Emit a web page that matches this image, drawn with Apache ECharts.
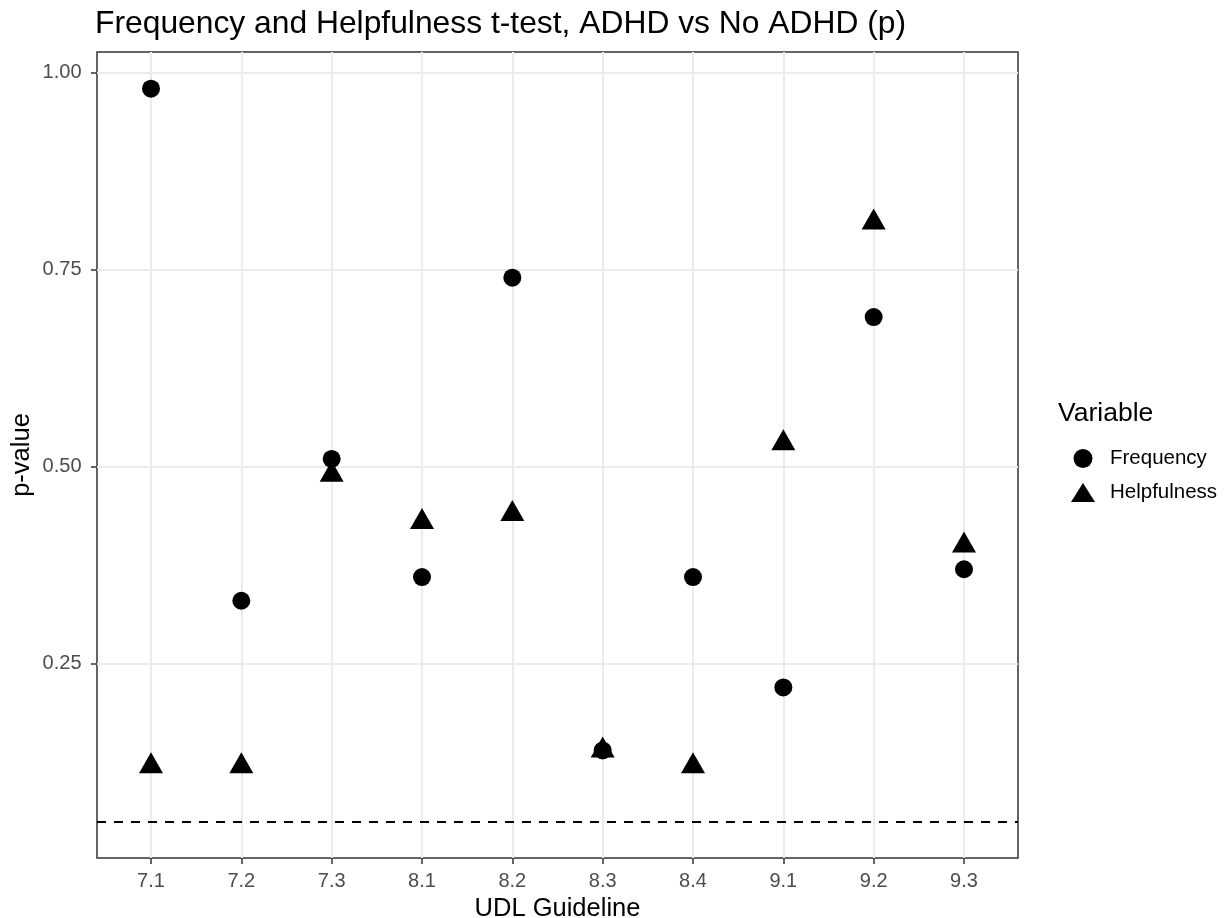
<!DOCTYPE html>
<html>
<head>
<meta charset="utf-8">
<title>Frequency and Helpfulness t-test</title>
<script src="https://cdn.jsdelivr.net/npm/echarts@6/dist/echarts.min.js"></script>
<style>
  html, body { margin: 0; padding: 0; background: #fff; }
  #chart { width: 1226px; height: 918px; }
</style>
</head>
<body>
<div id="chart"></div>
<script>
// data
var guidelines = ['7.1', '7.2', '7.3', '8.1', '8.2', '8.3', '8.4', '9.1', '9.2', '9.3'];
var frequency = [0.98, 0.33, 0.51, 0.36, 0.74, 0.14, 0.36, 0.22, 0.69, 0.37];
var helpfulness = [0.12, 0.12, 0.49, 0.43, 0.44, 0.14, 0.12, 0.53, 0.81, 0.40];
var yTicks = [0.25, 0.50, 0.75, 1.00];
var cutoff = 0.05;

var font = "'Liberation Sans', Arial, Helvetica, sans-serif";
var yMin = 0.0035, yMax = 1.0265;

function pairs(vals) {
    return vals.map(function (v, i) { return [i, v]; });
}

var chart = echarts.init(document.getElementById('chart'));
chart.setOption({
    animation: false,
    textStyle: { fontFamily: font },
    title: [{
        text: 'Frequency and Helpfulness t-test, ADHD vs No ADHD (p)',
        left: 90, top: 3,
        textStyle: { fontSize: 31.8, fontWeight: 'normal', color: '#000', fontFamily: font }
    }, {
        text: 'Variable',
        left: 1053, top: 395,
        textStyle: { fontSize: 26.5, fontWeight: 'normal', color: '#000', fontFamily: font }
    }],
    legend: {
        orient: 'vertical',
        left: 1066, top: 443,
        itemWidth: 24, itemHeight: 19, itemGap: 13,
        data: [{ name: 'Frequency', icon: 'circle' }, { name: 'Helpfulness', icon: 'triangle' }],
        textStyle: { fontSize: 20.5, color: '#000', fontFamily: font, padding: [0, 0, 0, 10] }
    },
    grid: [
        // full panel (border, y grid, cutoff line)
        { left: 97, right: 208, top: 52, bottom: 60, outerBoundsMode: 'none',
          show: true, borderColor: '#333', borderWidth: 1.5 },
        // inner range for categories (ggplot's 0.6 padding)
        { left: 151, right: 262, top: 52, bottom: 60, outerBoundsMode: 'none' }
    ],
    xAxis: [{
        gridIndex: 0, type: 'value', min: 0, max: 1, show: false
    }, {
        gridIndex: 1, type: 'value', min: 0, max: guidelines.length - 1, interval: 1,
        name: 'UDL Guideline', nameLocation: 'middle', nameGap: 33,
        nameTextStyle: { fontSize: 25.5, color: '#000', fontFamily: font },
        axisLine: { show: false },
        axisTick: { show: true, length: 6, lineStyle: { color: '#333', width: 1.5 } },
        axisLabel: {
            margin: 13, fontSize: 20, color: '#4d4d4d', fontFamily: font,
            formatter: function (v) { return guidelines[v]; }
        },
        splitLine: { show: true, lineStyle: { color: '#ebebeb', width: 2 } }
    }],
    yAxis: [{
        gridIndex: 0, type: 'value', min: yMin, max: yMax,
        name: 'p-value', nameLocation: 'middle', nameGap: 62, nameMoveOverlap: false,
        nameTextStyle: { fontSize: 25.5, color: '#000', fontFamily: font },
        axisLine: { show: false },
        axisTick: { show: true, length: 6, customValues: yTicks, lineStyle: { color: '#333', width: 1.5 } },
        axisLabel: {
            margin: 15.5, fontSize: 20, color: '#4d4d4d', fontFamily: font, customValues: yTicks,
            formatter: function (v) { return v.toFixed(2); }
        },
        splitLine: { show: true, lineStyle: { color: '#ebebeb', width: 2 } }
    }, {
        gridIndex: 1, type: 'value', min: yMin, max: yMax, show: false
    }],
    series: [{
        type: 'scatter', xAxisIndex: 0, yAxisIndex: 0, data: [],
        markLine: {
            silent: true, symbol: 'none', label: { show: false },
            lineStyle: { color: '#000', type: [9, 8], width: 2 },
            data: [{ yAxis: cutoff }]
        }
    }, {
        name: 'Frequency', type: 'scatter', xAxisIndex: 1, yAxisIndex: 1,
        symbol: 'circle', symbolSize: 18,
        itemStyle: { color: '#000', opacity: 1 },
        data: pairs(frequency)
    }, {
        name: 'Helpfulness', type: 'scatter', xAxisIndex: 1, yAxisIndex: 1,
        symbol: 'triangle', symbolSize: [24, 21], symbolOffset: [0, -3.5],
        itemStyle: { color: '#000', opacity: 1 },
        data: pairs(helpfulness)
    }]
});
</script>
</body>
</html>
